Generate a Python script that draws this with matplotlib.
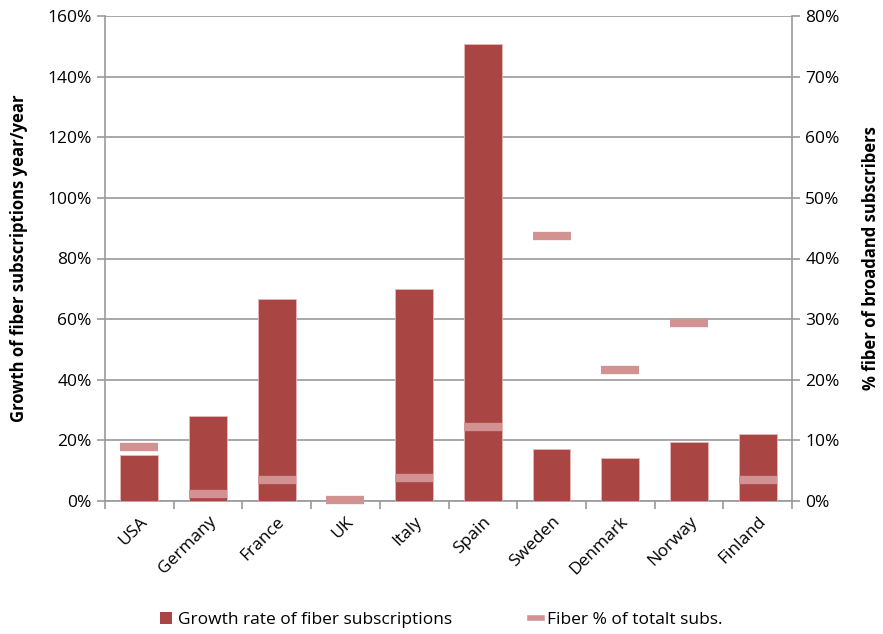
import numpy as np
import matplotlib.pyplot as plt
from matplotlib.ticker import FuncFormatter, MultipleLocator
from matplotlib.lines import Line2D
from matplotlib.patches import Patch

plt.rcParams['font.family'] = ['Open Sans', 'DejaVu Sans']

countries = ['USA', 'Germany', 'France', 'UK', 'Italy', 'Spain', 'Sweden', 'Denmark', 'Norway', 'Finland']
growth = [15.3, 28.1, 66.8, 0.0, 69.8, 150.7, 17.3, 14.1, 19.4, 22.0]
fiber_share = [8.9, 1.2, 3.5, 0.1, 3.75, 12.2, 43.7, 21.6, 29.4, 3.5]

bar_col = '#A94643'
mark_col = '#D29292'
grid_col = '#9A9A9A'

fig = plt.figure(figsize=(8.83, 6.34), dpi=100)
ax = fig.add_axes([105/883, 1 - 501/634, 687/883, 485/634])
ax2 = ax.twinx()

x = np.arange(len(countries))
ax.bar(x, growth, width=0.55, color=bar_col, edgecolor='#E6B8B7', linewidth=0.6, zorder=3)
ax2.plot(x, fiber_share, linestyle='none', marker='_', markersize=28, markeredgewidth=6,
         color=mark_col, zorder=4, clip_on=False)

ax.set_xlim(-0.5, len(countries) - 0.5)
ax.set_ylim(0, 160)
ax2.set_ylim(0, 80)
ax.yaxis.set_major_locator(MultipleLocator(20))
ax2.yaxis.set_major_locator(MultipleLocator(10))
pct = FuncFormatter(lambda v, p: f'{v:.0f}%')
ax.yaxis.set_major_formatter(pct)
ax2.yaxis.set_major_formatter(pct)

ax.grid(axis='y', color=grid_col, linewidth=1.2, zorder=0)
ax.set_axisbelow(True)

for a in (ax, ax2):
    for s in a.spines.values():
        s.set_visible(False)
ax.spines['left'].set_visible(True)
ax.spines['bottom'].set_visible(True)
ax2.spines['right'].set_visible(True)
for s in (ax.spines['left'], ax.spines['bottom'], ax2.spines['right']):
    s.set_color(grid_col)
    s.set_linewidth(1.2)

ax.set_xticks(x)
ax.set_xticklabels(countries, rotation=45, ha='right', rotation_mode='anchor', fontsize=12.5)
ax.set_xticks(np.arange(-0.5, len(countries)), minor=True)
ax.tick_params(axis='x', which='major', length=0, pad=9)
ax.tick_params(axis='x', which='minor', length=6, color=grid_col, width=1.2)
ax.tick_params(axis='y', length=6, color=grid_col, width=1.2, labelsize=12.5)
ax2.tick_params(axis='y', length=6, color=grid_col, width=1.2, labelsize=12.5)

ax.set_ylabel('Growth of fiber subscriptions year/year', fontsize=12, fontweight='bold', labelpad=14)
ax2.set_ylabel('% fiber of broadand subscribers', fontsize=12, fontweight='bold', labelpad=16)

handles = [Patch(facecolor=bar_col), Line2D([], [], color=mark_col, linewidth=4)]
labels = ['Growth rate of fiber subscriptions', 'Fiber % of totalt subs.']
fig.legend(handles, labels, loc='center', bbox_to_anchor=(0.5, 1 - 620/634), ncol=2,
           frameon=False, fontsize=12.5, handlelength=0.7, handleheight=0.7,
           columnspacing=4.5, handletextpad=0.3)

fig.savefig('out.png', dpi=100)
